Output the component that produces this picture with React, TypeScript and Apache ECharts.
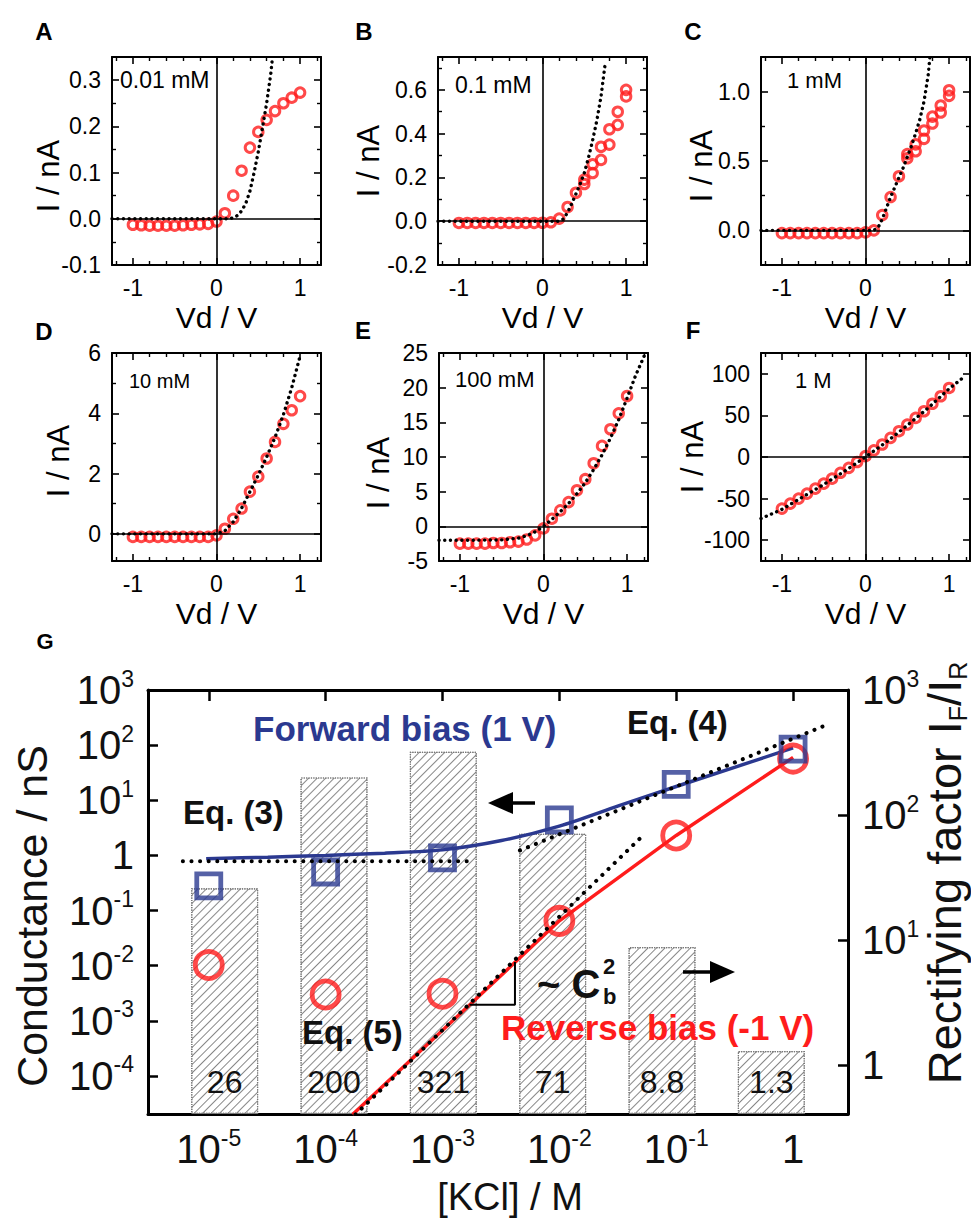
import { useEffect, useRef } from 'react';
import * as echarts from 'echarts';

const FONT = '"Liberation Sans", Arial, Helvetica, sans-serif';
const BLUE = '#2b3990';
const RED = '#ff1c1c';

// ---------------- Panels A–F : I–V sweeps ----------------
const sweepV = [-1, -0.9, -0.8, -0.7, -0.6, -0.5, -0.4, -0.3, -0.2, -0.1, 0, 0.1, 0.2, 0.3, 0.4, 0.5, 0.6, 0.7, 0.8, 0.9, 1];
const branchV = [0.5, 0.6, 0.7, 0.8, 0.9, 1];

const currentA = [-0.013, -0.014, -0.015, -0.015, -0.015, -0.015, -0.014, -0.013, -0.012, -0.011, -0.006, 0.012, 0.05, 0.104, 0.154, 0.188, 0.214, 0.233, 0.25, 0.262, 0.273];
const fitVA = [-1.25, 0.15, 0.2, 0.25, 0.3, 0.35, 0.4, 0.45, 0.5, 0.55, 0.6, 0.65, 0.67];
const fitIA = [0, 0, 0.002, 0.007, 0.017, 0.033, 0.06, 0.1, 0.145, 0.197, 0.25, 0.315, 0.35];

const currentB = [-0.008, -0.008, -0.008, -0.008, -0.008, -0.008, -0.008, -0.008, -0.008, -0.008, -0.007, -0.005, 0.012, 0.065, 0.13, 0.17, 0.22, 0.28, 0.35, 0.44, 0.57];
const branchB = [0.19, 0.26, 0.34, 0.42, 0.5, 0.6];
const fitVB = [-1.25, 0.2, 0.25, 0.3, 0.35, 0.4, 0.45, 0.5, 0.55, 0.6, 0.65, 0.7, 0.75];
const fitIB = [0, 0, 0.01, 0.04, 0.08, 0.125, 0.17, 0.22, 0.29, 0.37, 0.46, 0.57, 0.72];

const currentC = [-0.02, -0.02, -0.02, -0.02, -0.02, -0.02, -0.02, -0.02, -0.02, -0.02, -0.015, 0.0, 0.11, 0.24, 0.39, 0.52, 0.57, 0.66, 0.77, 0.85, 0.97];
const branchC = [0.55, 0.62, 0.72, 0.82, 0.9, 1.01];
const fitVC = [-1.25, 0.1, 0.15, 0.2, 0.25, 0.3, 0.35, 0.4, 0.45, 0.5, 0.55, 0.6, 0.65, 0.7, 0.75, 0.77];
const fitIC = [0, 0, 0.02, 0.08, 0.16, 0.24, 0.31, 0.38, 0.45, 0.53, 0.61, 0.7, 0.8, 0.93, 1.12, 1.25];

const currentD = [-0.1, -0.1, -0.1, -0.1, -0.1, -0.1, -0.1, -0.1, -0.1, -0.1, -0.05, 0.17, 0.5, 0.84, 1.4, 1.9, 2.5, 3.05, 3.65, 4.1, 4.57];
const fitVD = [-1.25, 0, 0.1, 0.2, 0.3, 0.4, 0.5, 0.6, 0.7, 0.8, 0.9, 1.0];
const fitID = [0, 0, 0.1, 0.4, 0.85, 1.4, 1.95, 2.55, 3.2, 3.95, 4.85, 5.9];

const currentE = [-2.5, -2.5, -2.5, -2.5, -2.4, -2.4, -2.3, -2.2, -1.9, -1.3, -0.3, 1.1, 2.3, 3.5, 5.2, 6.8, 9.1, 11.6, 14.0, 16.3, 18.8];
const fitVE = [-1.25, -0.8, -0.5, -0.3, -0.2, -0.1, 0, 0.1, 0.2, 0.3, 0.4, 0.5, 0.6, 0.7, 0.8, 0.9, 1.0, 1.1, 1.22];
const fitIE = [-2.0, -2.0, -1.95, -1.7, -1.35, -0.8, 0, 1.0, 2.1, 3.3, 4.7, 6.3, 8.2, 10.3, 12.7, 15.4, 18.5, 21.7, 25];

const currentF = [-62, -56, -50, -44, -38, -32, -26, -19, -13, -6, 1, 8, 15, 23, 31, 39, 47, 55, 64, 73, 83];
const fitVF = [-1.25, -1, -0.75, -0.5, -0.25, 0, 0.25, 0.5, 0.75, 1, 1.15];
const fitIF = [-74, -63, -48, -33, -17, 0, 18, 38, 59, 82, 94];

const vRange = [-1.25, 1.25];
const vTicks = [-1, 0, 1];
const vMinor = [-1.2, -0.8, -0.6, -0.4, -0.2, 0.2, 0.4, 0.6, 0.8, 1.2];

const yRangeA = [-0.1, 0.35]; const yTicksA = [-0.1, 0, 0.1, 0.2, 0.3]; const yMinorA = [-0.05, 0.05, 0.15, 0.25];
const yRangeB = [-0.2, 0.75]; const yTicksB = [-0.2, 0, 0.2, 0.4, 0.6]; const yMinorB = [-0.1, 0.1, 0.3, 0.5, 0.7];
const yRangeC = [-0.25, 1.25]; const yTicksC = [0, 0.5, 1]; const yMinorC = [0.25, 0.75];
const yRangeD = [-0.9, 6]; const yTicksD = [0, 2, 4, 6]; const yMinorD = [1, 3, 5];
const yRangeE = [-5, 25]; const yTicksE = [-5, 0, 5, 10, 15, 20, 25]; const yMinorE: number[] = [];
const yRangeF = [-125, 125]; const yTicksF = [-100, -50, 0, 50, 100]; const yMinorF: number[] = [];

const concLabels = ['0.01 mM', '0.1 mM', '1 mM', '10 mM', '100 mM', '1 M'];
const panelLetters = ['A', 'B', 'C', 'D', 'E', 'F'];

// ---------------- Panel G ----------------
const kclConc = [1e-5, 1e-4, 1e-3, 1e-2, 1e-1, 1];
const kclCategories = ['1e-5', '1e-4', '1e-3', '1e-2', '1e-1', '1'];
const rectifyFactor = [26, 200, 321, 71, 8.8, 1.3];
const forwardG = [0.28, 0.5, 0.9, 4.4, 19.5, 85];
const reverseG = [0.0103, 0.003, 0.0031, 0.065, 2.3, 57];
const forwardFitC = [9.5e-6, 3.2e-5, 1e-4, 3.2e-4, 1e-3, 3.2e-3, 1e-2, 3.2e-2, 0.1, 0.32, 1];
const forwardFitG = [0.87, 0.93, 1.0, 1.1, 1.26, 1.86, 3.4, 7.9, 17.8, 40, 89];
const reverseFitC = [1.7e-4, 1e-2, 0.1, 1];
const reverseFitG = [2.0e-5, 0.065, 2.3, 60];
const eq3C = [6e-6, 1.7e-3]; const eq3G = [0.78, 0.78];
const eq4C = [4.6e-3, 2.0]; const eq4G = [1.23, 240];
const eq5C = [1.8e-4, 5.2e-2]; const eq5G = [2.0e-5, 2.3];
const slopeC = [1.7e-3, 4.17e-3, 4.17e-3]; const slopeG = [1.95e-3, 1.95e-3, 1.17e-2];
const kclTickExp = [-5, -4, -3, -2, -1, 0];
const condTickExp = [-4, -3, -2, -1, 0, 1, 2, 3];
const rectTickExp = [0, 1, 2, 3];
const kclRangeExp = [-5.52, 0.47];
const condRangeExp = [-4.69, 3];
const rectRangeExp = [-0.39, 3];

// ---------------- layout (pixels) ----------------
const PW = 209, PH = 208;
const panelLayout = [
  { left: 112, top: 57, lx: 44, ly: 31, cx: 120, cy: 80, cs: 23, nx: 48, ny: 176 },
  { left: 438, top: 57, lx: 364, ly: 31, cx: 455, cy: 85, cs: 23, nx: 368, ny: 161 },
  { left: 761, top: 57, lx: 693, ly: 31, cx: 787, cy: 80, cs: 22, nx: 701, ny: 166 },
  { left: 112, top: 353, lx: 44, ly: 331, cx: 129, cy: 381, cs: 20, nx: 58, ny: 461 },
  { left: 439, top: 353, lx: 363, ly: 330, cx: 455, cy: 379, cs: 22, nx: 378, ny: 473 },
  { left: 761, top: 353, lx: 693, ly: 330, cx: 795, cy: 380, cs: 22, nx: 692, ny: 457 },
];

const L = (v: number) => Math.log10(v);
const zip = (xs: number[], ys: number[]) => xs.map((x, k) => [x, ys[k]]);
const zipLog = (xs: number[], ys: number[]) => xs.map((x, k) => [L(x), L(ys[k])]);

function axisSet(dim: 'x' | 'y', grid: number, range: number[], major: number[], minor: number[], fmt: (v: number) => string, name?: string) {
  const base: any = {
    gridIndex: grid, type: 'value', min: range[0], max: range[1], splitLine: { show: false },
  };
  const mainPos = dim === 'x' ? 'bottom' : 'left';
  const mirPos = dim === 'x' ? 'top' : 'right';
  const line = { show: true, onZero: false, lineStyle: { color: '#000', width: 2 } };
  const majTick = { show: true, inside: true, length: 7, customValues: major, lineStyle: { color: '#000', width: 1.6 } };
  const minTick = { show: minor.length > 0, inside: true, length: 4, customValues: minor.length ? minor : [range[0]], lineStyle: { color: '#000', width: 1.4 } };
  const main: any = {
    ...base, position: mainPos, axisLine: line, axisTick: majTick,
    axisLabel: { show: true, customValues: major, formatter: fmt, fontSize: 23, color: '#000', margin: 11, fontFamily: FONT },
  };
  if (name) {
    Object.assign(main, { name, nameLocation: 'middle', nameGap: 37, nameMoveOverlap: false, nameTextStyle: { fontSize: 30, color: '#000', fontFamily: FONT } });
  }
  return [
    main,
    { ...base, position: mainPos, axisLine: { show: false, onZero: false }, axisTick: minTick, axisLabel: { show: false } },
    { ...base, position: mirPos, axisLine: line, axisTick: majTick, axisLabel: { show: false } },
    { ...base, position: mirPos, axisLine: { show: false, onZero: false }, axisTick: minTick, axisLabel: { show: false } },
  ];
}

function buildOption() {
  const ivPanels = [
    { I: currentA, bI: [] as number[], fitV: fitVA, fitI: fitIA, yRange: yRangeA, yTicks: yTicksA, yMinor: yMinorA, digits: 1 },
    { I: currentB, bI: branchB, fitV: fitVB, fitI: fitIB, yRange: yRangeB, yTicks: yTicksB, yMinor: yMinorB, digits: 1 },
    { I: currentC, bI: branchC, fitV: fitVC, fitI: fitIC, yRange: yRangeC, yTicks: yTicksC, yMinor: yMinorC, digits: 1 },
    { I: currentD, bI: [] as number[], fitV: fitVD, fitI: fitID, yRange: yRangeD, yTicks: yTicksD, yMinor: yMinorD, digits: 0 },
    { I: currentE, bI: [] as number[], fitV: fitVE, fitI: fitIE, yRange: yRangeE, yTicks: yTicksE, yMinor: yMinorE, digits: 0 },
    { I: currentF, bI: [] as number[], fitV: fitVF, fitI: fitIF, yRange: yRangeF, yTicks: yTicksF, yMinor: yMinorF, digits: 0 },
  ];

  const grids: any[] = [];
  const xAxes: any[] = [];
  const yAxes: any[] = [];
  const series: any[] = [];
  const graphic: any[] = [];

  const txt = (text: string, x: number, y: number, font: string, opts: any = {}) => ({
    type: 'text', x, y, z: 20, rotation: opts.rotation || 0,
    style: {
      text, font, fill: opts.color || '#111', textAlign: opts.align || 'left', textVerticalAlign: 'middle',
      align: opts.align || 'left', verticalAlign: 'middle', rich: opts.rich,
    },
  });

  ivPanels.forEach((p, i) => {
    const lay = panelLayout[i];
    grids.push({ left: lay.left, top: lay.top, width: PW, height: PH, containLabel: false, outerBoundsMode: 'none' });
    xAxes.push(...axisSet('x', i, vRange, vTicks, vMinor, (v) => String(v), 'Vd / V'));
    yAxes.push(...axisSet('y', i, p.yRange, p.yTicks, p.yMinor, (v) => v.toFixed(p.digits)));
    const data = zip(sweepV, p.I).concat(p.bI.length ? zip(branchV, p.bI) : []);
    series.push({
      type: 'scatter', xAxisIndex: i * 4, yAxisIndex: i * 4, data, symbol: 'circle', symbolSize: 9.5,
      itemStyle: { color: 'rgba(255,255,255,0)', borderColor: RED, borderWidth: 3 }, z: 2,
      markLine: {
        silent: true, symbol: ['none', 'none'], label: { show: false },
        lineStyle: { color: '#000', width: 1.6, type: 'solid' },
        data: [{ xAxis: 0 }, { yAxis: 0 }],
      },
    });
    series.push({
      type: 'line', xAxisIndex: i * 4, yAxisIndex: i * 4, data: zip(p.fitV, p.fitI), showSymbol: false, symbol: 'none',
      lineStyle: { color: '#000', width: 3.4, type: [0.1, 5.6], cap: 'round' }, z: 3,
    });
    graphic.push(txt(panelLetters[i], lay.lx, lay.ly, `bold 24px ${FONT}`, { align: 'center', color: '#000' }));
    graphic.push(txt(concLabels[i], lay.cx, lay.cy, `${lay.cs}px ${FONT}`, { color: '#000' }));
    graphic.push(txt('I / nA', lay.nx, lay.ny, `31px ${FONT}`, { align: 'center', color: '#000', rotation: Math.PI / 2 }));
  });

  // ---- Panel G ----
  const G = 6;
  grids.push({ left: 148, top: 690, width: 700, height: 424, containLabel: false, outerBoundsMode: 'none' });
  grids.push({ left: 170, top: 690, width: 656, height: 424, containLabel: false, outerBoundsMode: 'none' });

  const powFmt = (v: number) => { const k = Math.round(v); return k === 0 ? '{b|1}' : `{b|10}{p|${k}}`; };
  const powRich = {
    b: { fontSize: 40, fontFamily: FONT, color: '#111', lineHeight: 46 },
    p: { fontSize: 23, fontFamily: FONT, color: '#111', verticalAlign: 'top', lineHeight: 46 },
  };
  const gLine = { show: true, onZero: false, lineStyle: { color: '#000', width: 3 } };
  const gTick = (vals: number[], len: number) => ({ show: true, inside: true, length: len, customValues: vals, lineStyle: { color: '#000', width: 2.5 } });

  xAxes.push({
    gridIndex: G, type: 'value', position: 'bottom', min: kclRangeExp[0], max: kclRangeExp[1], splitLine: { show: false },
    axisLine: gLine, axisTick: gTick(kclTickExp, 11),
    axisLabel: { customValues: kclTickExp, formatter: powFmt, rich: powRich, margin: 12 },
    name: '[KCl] / M', nameLocation: 'middle', nameGap: 64, nameMoveOverlap: false,
    nameTextStyle: { fontSize: 38, color: '#111', fontFamily: FONT, padding: [0, 0, 0, 24] },
  });
  xAxes.push({
    gridIndex: G, type: 'value', position: 'top', min: kclRangeExp[0], max: kclRangeExp[1], splitLine: { show: false },
    axisLine: gLine, axisTick: gTick(kclTickExp, 11), axisLabel: { show: false },
  });
  yAxes.push({
    gridIndex: G, type: 'value', position: 'left', min: condRangeExp[0], max: condRangeExp[1], splitLine: { show: false },
    axisLine: gLine, axisTick: gTick(condTickExp, 10),
    axisLabel: { customValues: condTickExp, formatter: powFmt, rich: powRich, margin: 14 },
  });
  yAxes.push({
    gridIndex: G, type: 'value', position: 'right', min: rectRangeExp[0], max: rectRangeExp[1], splitLine: { show: false },
    axisLine: gLine, axisTick: gTick(rectTickExp, 10),
    axisLabel: { customValues: rectTickExp, formatter: powFmt, rich: powRich, margin: 14 },
  });
  // bar grid (hidden axes)
  xAxes.push({ gridIndex: 7, type: 'category', data: kclCategories, show: false });
  yAxes.push({ gridIndex: 7, type: 'value', min: rectRangeExp[0], max: rectRangeExp[1], startValue: rectRangeExp[0], show: false, splitLine: { show: false } });

  const gx = 24, gy = 24, bx = 26, by = 26;
  series.push({
    type: 'bar', xAxisIndex: bx, yAxisIndex: by, barWidth: 67, z: 1,
    data: rectifyFactor.map((v) => L(v)),
    itemStyle: {
      color: '#ffffff', borderColor: '#777', borderWidth: 1.2, borderType: 'dotted',
      decal: { symbol: 'rect', symbolSize: 1, color: 'rgba(95,95,95,0.75)', dashArrayX: [1, 0], dashArrayY: [1, 5], rotation: -Math.PI / 4 },
    },
    label: {
      show: true, position: 'insideBottom', distance: 16, fontSize: 32, color: '#111', fontFamily: FONT,
      formatter: (p: any) => String(rectifyFactor[p.dataIndex]),
    },
  });
  const dotted = { color: '#000', width: 4, type: [0.1, 8.5], cap: 'round' };
  series.push({ type: 'line', xAxisIndex: gx, yAxisIndex: gy, data: zipLog(forwardFitC, forwardFitG), showSymbol: false, symbol: 'none', smooth: 0.3, lineStyle: { color: BLUE, width: 3.5 }, z: 3 });
  series.push({ type: 'line', xAxisIndex: gx, yAxisIndex: gy, data: zipLog(reverseFitC, reverseFitG), showSymbol: false, symbol: 'none', lineStyle: { color: RED, width: 3.4 }, z: 3 });
  series.push({ type: 'scatter', xAxisIndex: gx, yAxisIndex: gy, data: zipLog(kclConc, reverseG), symbol: 'circle', symbolSize: 27, itemStyle: { color: 'rgba(255,255,255,0)', borderColor: RED, borderWidth: 4.8 }, z: 4 });
  series.push({ type: 'scatter', xAxisIndex: gx, yAxisIndex: gy, data: zipLog(kclConc, forwardG), symbol: 'rect', symbolSize: 24, itemStyle: { color: 'rgba(255,255,255,0)', borderColor: BLUE, borderWidth: 4.8 }, z: 5 });
  series.push({ type: 'line', xAxisIndex: gx, yAxisIndex: gy, data: zipLog(eq3C, eq3G), showSymbol: false, symbol: 'none', lineStyle: dotted, z: 6 });
  series.push({ type: 'line', xAxisIndex: gx, yAxisIndex: gy, data: zipLog(eq4C, eq4G), showSymbol: false, symbol: 'none', lineStyle: dotted, z: 6 });
  series.push({ type: 'line', xAxisIndex: gx, yAxisIndex: gy, data: zipLog(eq5C, eq5G), showSymbol: false, symbol: 'none', lineStyle: dotted, z: 6 });
  series.push({ type: 'line', xAxisIndex: gx, yAxisIndex: gy, data: zipLog(slopeC, slopeG), showSymbol: false, symbol: 'none', lineStyle: { color: '#000', width: 2 }, z: 6 });

  graphic.push(txt('G', 45, 641, `bold 22px ${FONT}`, { align: 'center', color: '#000' }));
  graphic.push(txt('Conductance / nS', 32, 916, `43px ${FONT}`, { align: 'center', rotation: Math.PI / 2 }));
  graphic.push(txt('{a|Rectifying factor I}{s|F}{a|/I}{s|R}', 944, 873, `47px ${FONT}`, {
    align: 'center', rotation: Math.PI / 2,
    rich: {
      a: { fontSize: 47, fontFamily: FONT, fill: '#111', color: '#111', lineHeight: 52 },
      s: { fontSize: 25, fontFamily: FONT, fill: '#111', color: '#111', lineHeight: 52, verticalAlign: 'bottom' },
    },
  }));
  const bold = (s: number) => `bold ${s}px ${FONT}`;
  graphic.push(txt('Forward bias (1 V)', 253, 728, bold(35), { color: BLUE }));
  graphic.push(txt('Eq. (4)', 627, 722, bold(33)));
  graphic.push(txt('Eq. (3)', 183, 812, bold(33)));
  graphic.push(txt('Eq. (5)', 302, 1032, bold(33)));
  graphic.push(txt('Reverse bias (-1 V)', 501, 1027, bold(35), { color: RED }));
  graphic.push(txt('~ C', 537, 984, bold(40)));
  graphic.push(txt('2', 603, 966, bold(22)));
  graphic.push(txt('b', 603, 996, bold(22)));
  graphic.push({ type: 'polygon', z: 20, shape: { points: [[488, 803], [513, 792], [513, 814]] }, style: { fill: '#000' } });
  graphic.push({ type: 'line', z: 20, shape: { x1: 510, y1: 803, x2: 535, y2: 803 }, style: { stroke: '#000', lineWidth: 3.5 } });
  graphic.push({ type: 'polygon', z: 20, shape: { points: [[735, 972], [710, 961], [710, 983]] }, style: { fill: '#000' } });
  graphic.push({ type: 'line', z: 20, shape: { x1: 683, y1: 972, x2: 713, y2: 972 }, style: { stroke: '#000', lineWidth: 3.5 } });

  return {
    animation: false,
    backgroundColor: '#fff',
    textStyle: { fontFamily: FONT },
    grid: grids,
    xAxis: xAxes,
    yAxis: yAxes,
    series,
    graphic,
  };
}

export default function App() {
  const ref = useRef<HTMLDivElement>(null);
  useEffect(() => {
    if (!ref.current) return;
    const chart = echarts.init(ref.current, null, { renderer: 'svg', width: 971, height: 1220 });
    chart.setOption(buildOption() as any);
    return () => chart.dispose();
  }, []);
  return <div ref={ref} style={{ position: 'absolute', left: 0, top: 0, width: 971, height: 1220, background: '#fff' }} />;
}
